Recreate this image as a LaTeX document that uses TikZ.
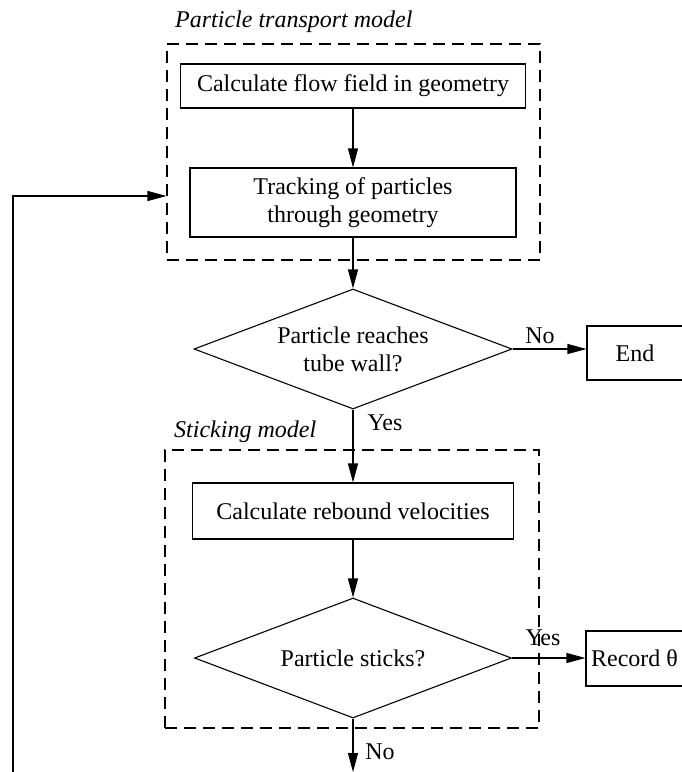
\documentclass[tikz,border=0pt]{standalone}
\usepackage{fontspec}
\setmainfont{Liberation Serif}
\usetikzlibrary{shapes.geometric,arrows.meta}
\begin{document}
\begin{tikzpicture}[x=1pt,y=-1pt,
  every node/.style={font=\fontsize{24}{28}\selectfont},
  proc/.style={draw,line width=1.1pt,inner sep=0pt,align=center},
  dec/.style={draw,line width=1.1pt,diamond,aspect=2.65,inner sep=0pt,align=center},
  grp/.style={draw,line width=1.1pt,dash pattern=on 12pt off 7pt,inner sep=0pt},
  lbl/.style={inner sep=0pt},
  ttl/.style={inner sep=0pt,anchor=west,font=\fontsize{24}{28}\selectfont\itshape},
  arr/.style={line width=1.1pt,-{Triangle[length=19pt,width=10pt]}}]
\useasboundingbox (0,0) rectangle (682,772);
% groups
\node[grp,minimum width=373pt,minimum height=216pt] (g1) at (353.5,152) {};
\node[grp,minimum width=374pt,minimum height=278pt] (g2) at (352,589) {};
\node[ttl] (t1) at (175,22) {Particle transport model};
\node[ttl] (t2) at (174,432) {Sticking model};
% steps
\node[proc,minimum width=345pt,minimum height=44pt] (b1) at (353,86) {Calculate flow field in geometry};
\node[proc,minimum width=326pt,minimum height=69pt] (b2) at (353,202.5) {Tracking of particles\\through geometry};
\node[dec,minimum width=318pt,minimum height=120pt] (d1) at (353,349) {Particle reaches\\tube wall?};
\node[proc,minimum width=96pt,minimum height=54pt] (e) at (635,353) {End};
\node[proc,minimum width=321pt,minimum height=56pt] (b3) at (353,511) {Calculate rebound velocities};
\node[dec,minimum width=317pt,minimum height=120pt] (d2) at (353,658) {Particle sticks?};
\node[proc,minimum width=97pt,minimum height=55pt] (r) at (634.5,658.5) {Record θ};
% labels
\node[lbl] (no1) at (540,336) {No};
\node[lbl] (yes1) at (385,423) {Yes};
\node[lbl] (yes2) at (543,638) {Yes};
\node[lbl] (no2) at (380,752) {No};
% free ends
\coordinate (bot) at (353,772);
\coordinate (fbs) at (13,772);
\coordinate (fbc) at (13,196);
% connectors
\draw[arr] (b1.south) -- (b2.north);
\draw[arr] (b2.south) -- (d1.north);
\draw[arr] (d1.east) -- (d1.east -| e.west);
\draw[arr] (d1.south) -- (b3.north);
\draw[arr] (b3.south) -- (d2.north);
\draw[arr] (d2.east) -- (d2.east -| r.west);
\draw[arr] (d2.south) -- (bot);
\draw[arr] (fbs) -- (fbc) -- (fbc -| g1.west);
\end{tikzpicture}
\end{document}
